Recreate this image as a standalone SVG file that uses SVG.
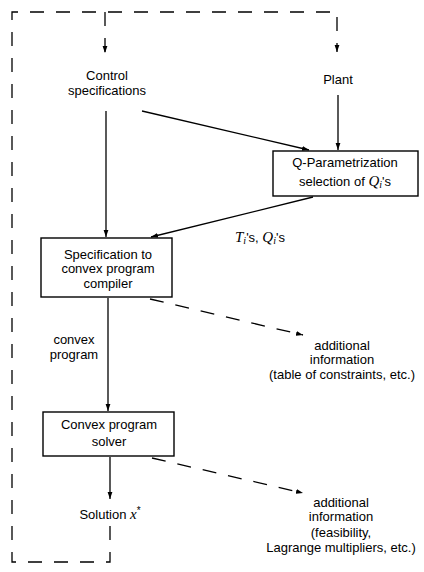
<svg xmlns="http://www.w3.org/2000/svg" width="424" height="572" viewBox="0 0 424 572">
<style>
.t{font-family:"Liberation Sans",Arial,sans-serif;font-size:13px;fill:#000;text-anchor:middle}
.m{font-family:"Liberation Serif","Times New Roman",serif;font-style:italic;font-size:15px}
.s{font-family:"Liberation Serif","Times New Roman",serif;font-style:italic;font-size:10px}
.box{fill:#fff;stroke:#000;stroke-width:1.4}
.ln{fill:none;stroke:#000;stroke-width:1.3}
.ds{fill:none;stroke:#000;stroke-width:1.3;stroke-dasharray:14 12}
</style>
<defs>
<marker id="ah" markerWidth="8" markerHeight="6" refX="7" refY="3" orient="auto" markerUnits="userSpaceOnUse">
<path d="M0,0.6 L7,3 L0,5.4 Z" fill="#000"/>
</marker>
</defs>
<rect width="424" height="572" fill="#fff"/>
<g id="connectors">
<path class="ln" d="M106,111 V237" marker-end="url(#ah)"/>
<path class="ln" d="M142,111 L309,150" marker-end="url(#ah)"/>
<path class="ln" d="M338,95 V150" marker-end="url(#ah)"/>
<path class="ln" d="M313,197 L151,237" marker-end="url(#ah)"/>
<path class="ln" d="M108,298 V411" marker-end="url(#ah)"/>
<path class="ds" d="M150,299 L303,335" marker-end="url(#ah)"/>
<path class="ln" d="M110,457 V499" marker-end="url(#ah)"/>
<path class="ds" d="M152,458 L303,493" marker-end="url(#ah)"/>
<path class="ds" d="M110,526 V562 H12 V12 H337 V52" marker-end="url(#ah)"/>
<path class="ds" d="M105,12 V53" marker-end="url(#ah)"/>
</g>
<g id="control-spec">
<text class="t" x="107" y="80">Control</text>
<text class="t" x="107" y="95">specifications</text>
</g>
<g id="plant">
<text class="t" x="338" y="84">Plant</text>
</g>
<g id="q-param">
<rect class="box" x="273" y="151" width="145" height="45"/>
<text class="t" x="345" y="167">Q-Parametrization</text>
<text class="t" x="345" y="186">selection of <tspan class="m">Q</tspan><tspan class="s" dy="2">i</tspan><tspan dy="-2">'s</tspan></text>
</g>
<g id="ti-label">
<text class="t" x="260" y="242"><tspan class="m">T</tspan><tspan class="s" dy="2">i</tspan><tspan dy="-2">'s, </tspan><tspan class="m">Q</tspan><tspan class="s" dy="2">i</tspan><tspan dy="-2">'s</tspan></text>
</g>
<g id="compiler">
<rect class="box" x="41" y="238" width="131" height="59"/>
<text class="t" x="108" y="259">Specification to</text>
<text class="t" x="108" y="273">convex program</text>
<text class="t" x="108" y="288">compiler</text>
</g>
<g id="convex-label">
<text class="t" x="74" y="344">convex</text>
<text class="t" x="74" y="359">program</text>
</g>
<g id="info1">
<text class="t" x="342" y="350">additional</text>
<text class="t" x="342" y="364">information</text>
<text class="t" x="342" y="379">(table of constraints, etc.)</text>
</g>
<g id="solver">
<rect class="box" x="43" y="412" width="131" height="44"/>
<text class="t" x="109" y="429">Convex program</text>
<text class="t" x="109" y="446">solver</text>
</g>
<g id="solution">
<text class="t" x="110" y="519">Solution <tspan class="m">x</tspan><tspan font-size="10" dy="-5">*</tspan></text>
</g>
<g id="info2">
<text class="t" x="341" y="507">additional</text>
<text class="t" x="341" y="521">information</text>
<text class="t" x="341" y="537">(feasibility,</text>
<text class="t" x="341" y="552">Lagrange multipliers, etc.)</text>
</g>
</svg>
